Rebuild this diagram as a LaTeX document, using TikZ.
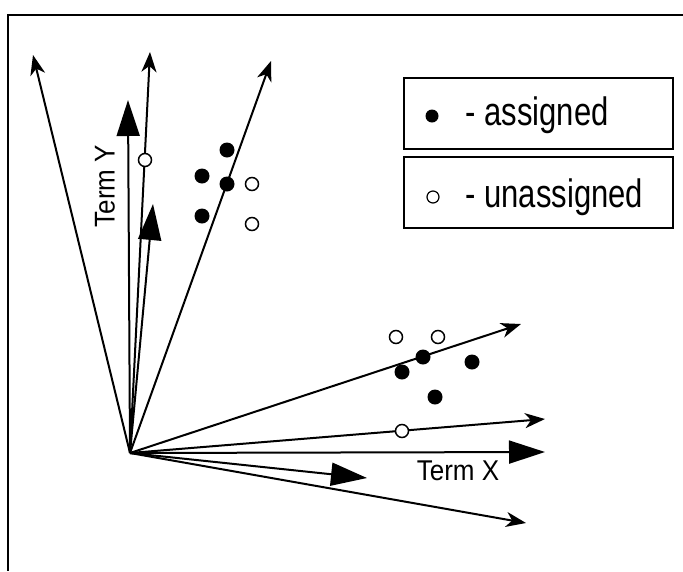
\documentclass[tikz,border=0pt]{standalone}
\usepackage{fontspec}
\setmainfont{Liberation Sans}
\usetikzlibrary{arrows.meta}

\begin{document}
\begin{tikzpicture}[x=1pt,y=-1pt,every node/.style={font=\fontsize{26}{30}\selectfont},vec/.style={line width=2pt,-{Stealth[length=20pt,width=15pt,inset=6pt]}},term/.style={line width=2pt,-{Triangle[length=36pt,width=23pt]}},full/.style={circle,fill=black,inner sep=0pt,minimum size=15pt},hollow/.style={circle,draw=black,fill=white,line width=1.5pt,inner sep=0pt,minimum size=13pt},key/.style={draw,line width=1.5pt,minimum width=269pt,minimum height=71pt,inner sep=0pt},keytext/.style={anchor=base west,font=\fontsize{31}{36}\selectfont,yscale=1.28}]
\useasboundingbox (0,0) rectangle (683,571);
\draw[line width=2pt] (683,15)--(8,15)--(8,571);

% document vectors from the origin
\coordinate (o) at (130,453);
\coordinate (v1) at (33,55);\coordinate (v2) at (150,52);\coordinate (v3) at (271,61);
\coordinate (v4) at (521,324);\coordinate (v5) at (545,419);\coordinate (v6) at (526,523);
\coordinate (ty) at (128,100);\coordinate (cy) at (153,204);\coordinate (tx) at (545,452);\coordinate (cx) at (367,478);
\foreach \v in {v1,v2,v3,v4,v5,v6}{\draw[vec] (o)--(\v);}
\foreach \v in {ty,cy,tx,cx}{\draw[term] (o)--(\v);}
\node[rotate=90,yscale=1.1] (ylab) at (105,186) {Term Y};
\node[yscale=1.1] (xlab) at (458,471) {Term X};

% upper cluster
\node[full] (p1) at (227,150){};\node[full] (p2) at (202,176){};\node[full] (p3) at (227,184){};\node[full] (p4) at (202,216){};
\node[hollow] (q1) at (145,160){};\node[hollow] (q2) at (252,184){};\node[hollow] (q3) at (252,224){};
% lower cluster
\node[full] (p5) at (423,357){};\node[full] (p6) at (402,372){};\node[full] (p7) at (472,362){};\node[full] (p8) at (435,397){};
\node[hollow] (q4) at (396,337){};\node[hollow] (q5) at (438,337){};\node[hollow] (q6) at (402,431){};

% legend
\node[key] (keyA) at (538.5,113.5){};\node[key] (keyB) at (538.5,192.5){};
\node[full,minimum size=13pt] (dotA) at (432,116){};\node[keytext] (txtA) at (462,125){- assigned};
\node[hollow,line width=1.2pt,minimum size=12pt] (dotB) at (433,197){};\node[keytext] (txtB) at (462,207){- unassigned};
\end{tikzpicture}
\end{document}
